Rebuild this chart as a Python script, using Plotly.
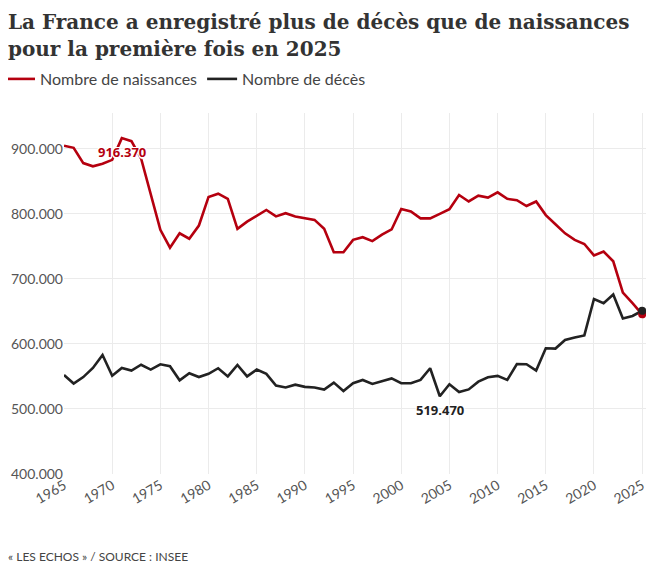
import plotly.graph_objects as go

years = list(range(1965, 2026))

naissances = [
    904600, 901500, 878000, 873000, 877000, 883000, 916370, 911700, 885000, 831000,
    775500, 748000, 770000, 761700, 782000, 826000, 831000, 823000, 777000, 788000,
    797000, 806000, 796000, 801000, 796000, 793000, 790700, 777000, 741000, 741000,
    760000, 764000, 758000, 768000, 776000, 807500, 803500, 793000, 793000, 800000,
    807000, 829000, 819000, 828000, 825000, 833000, 823000, 821000, 812000, 819000,
    798000, 784000, 770000, 760000, 753600, 736000, 742000, 727000, 679000, 662600,
    645500,
]

deces = [
    552300, 539000, 549000, 563000, 583000, 551000, 563000, 559000, 568000, 560500,
    568700, 565600, 544000, 555000, 549000, 554000, 562600, 550000, 567700, 550000,
    560500, 554000, 536000, 533000, 537400, 534000, 533000, 529700, 540500, 527700,
    539500, 544600, 538500, 542600, 547000, 539500, 539500, 544600, 562600, 519470,
    538000, 526000, 530000, 542000, 548700, 550800, 544600, 569000, 568700, 559000,
    593300, 592800, 606000, 609700, 613000, 669000, 662600, 676000, 639000, 643000,
    651000,
]

title_lines = ["La France a enregistré plus de décès que de naissances",
               "pour la première fois en 2025"]

RED = "#b5000f"
BLACK = "#222222"
SANS = "Lato"

# the page body has an 8px margin, so figure coords = window coords - 8
FW, FH = 649, 557
L, T, W, H = 56, 105, 582, 361

def px_x(x):
    return (x - L) / W

def px_y(y):
    return (T + H - y) / H

def fr(n):
    return f"{n:,}".replace(",", ".")

fig = go.Figure()
fig.add_trace(go.Scatter(x=years, y=naissances, name="Nombre de naissances",
                         mode="lines", line=dict(color=RED, width=2.6)))
fig.add_trace(go.Scatter(x=years, y=deces, name="Nombre de décès",
                         mode="lines", line=dict(color=BLACK, width=2.6)))

# end points
fig.add_trace(go.Scatter(x=[years[-1]], y=[naissances[-1]], mode="markers",
                         marker=dict(color=RED, size=8), showlegend=False))
fig.add_trace(go.Scatter(x=[years[-1]], y=[deces[-1]], mode="markers",
                         marker=dict(color=BLACK, size=8), showlegend=False))

halo = "white 1px 1px 0px, white -1px -1px 0px, white 1px -1px 0px, white -1px 1px 0px, white 0px 2px 1px"
i_max = naissances.index(max(naissances))
i_min = deces.index(min(deces))
fig.add_annotation(x=years[i_max], y=naissances[i_max], text=fr(naissances[i_max]),
                   showarrow=False, yshift=-14,
                   font=dict(family="Noto Sans", size=13, color=RED, weight="bold", shadow=halo))
fig.add_annotation(x=years[i_min], y=deces[i_min], text=fr(deces[i_min]),
                   showarrow=False, yshift=-14,
                   font=dict(family="Noto Sans", size=13, color=BLACK, weight="bold", shadow=halo))

# title, one annotation per line to get the wider line spacing
for line, yc in zip(title_lines, [14, 41]):
    fig.add_annotation(text=line, xref="paper", yref="paper", x=px_x(-2), y=px_y(yc),
                       xanchor="left", yanchor="middle", align="left", showarrow=False,
                       font=dict(family="DejaVu Serif", size=20, color="#333", weight="bold"))

# source
fig.add_annotation(text="« LES ECHOS » / SOURCE : INSEE", xref="paper", yref="paper",
                   x=px_x(-2), y=px_y(548), xanchor="left", yanchor="middle", showarrow=False,
                   font=dict(family=SANS, size=12, color="#444"))

fig.update_layout(
    width=FW, height=FH,
    margin=dict(l=L, r=FW - L - W, t=T, b=FH - T - H, autoexpand=False),
    paper_bgcolor="white", plot_bgcolor="white",
    separators=",.",
    legend=dict(orientation="h", x=px_x(-8), y=px_y(71), xanchor="left", yanchor="middle",
                font=dict(family=SANS, size=16, color="#444"), itemwidth=30),
    showlegend=True,
)
fig.update_xaxes(range=[1965, 2025.4], tick0=1965, dtick=5, tickangle=-30,
                 showgrid=True, gridcolor="#ebebeb", zeroline=False, showline=False,
                 automargin=False,
                 tickfont=dict(family=SANS, size=14, color="#555"), fixedrange=True)
fig.update_yaxes(range=[400000, 955000], tickvals=[400000, 500000, 600000, 700000, 800000, 900000],
                 tickformat=",d", showgrid=True, gridcolor="#ebebeb", zeroline=False,
                 automargin=False,
                 tickfont=dict(family=SANS, size=14, color="#555"), fixedrange=True)

fig.write_html("out.html")
